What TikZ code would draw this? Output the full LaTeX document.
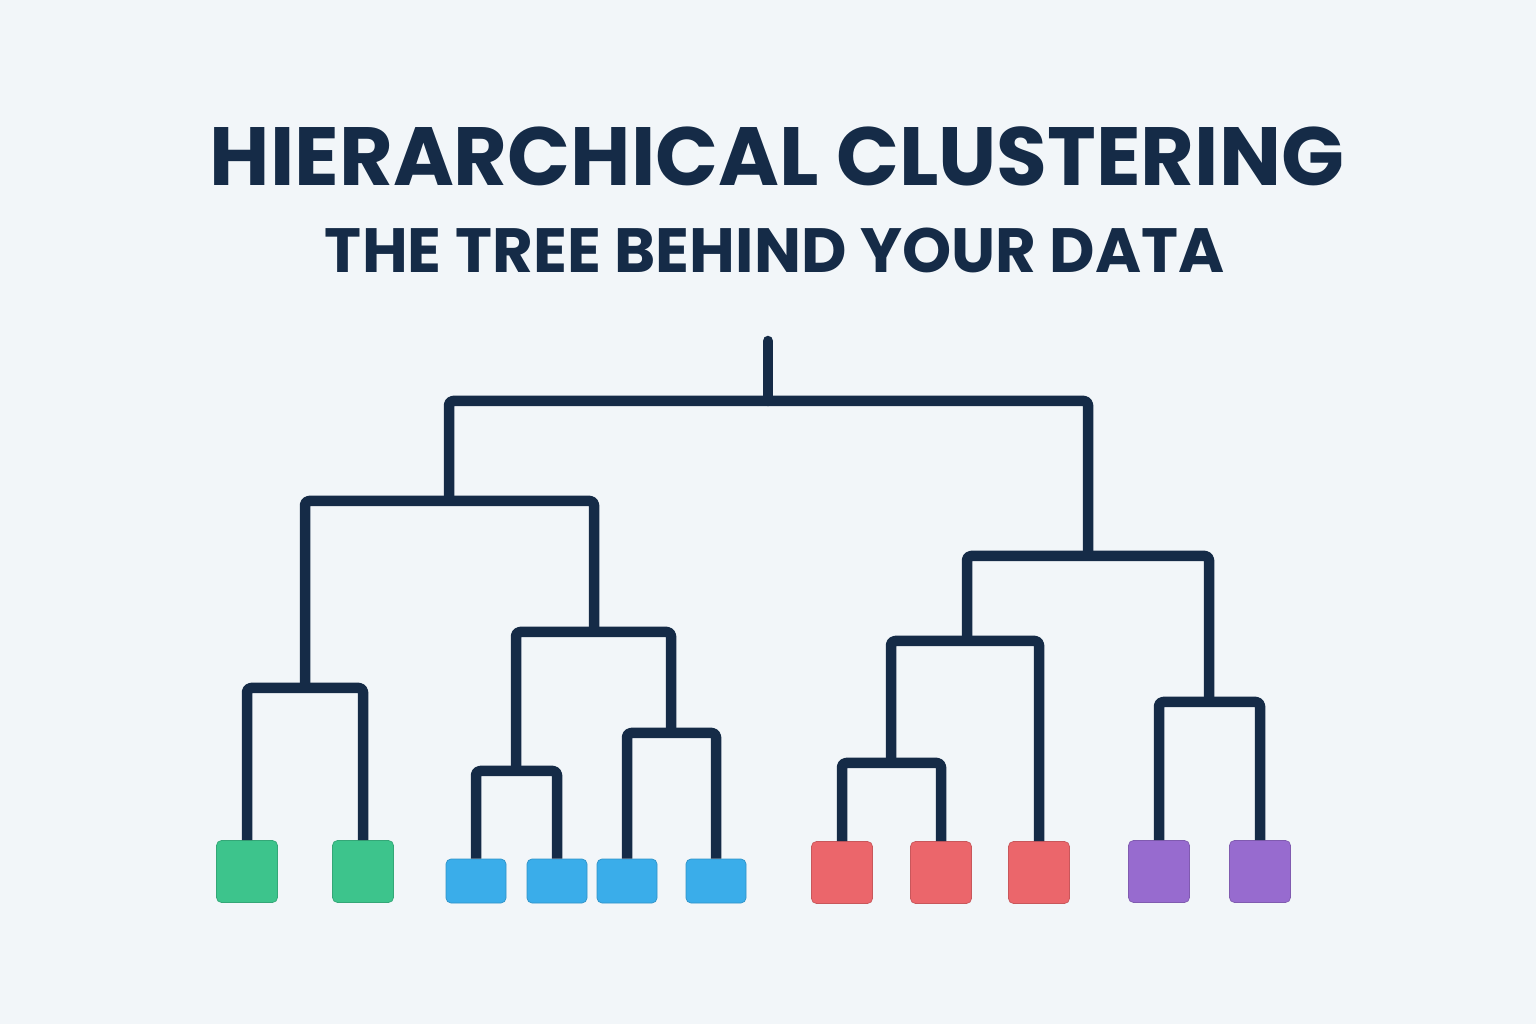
\documentclass[tikz,border=0pt]{standalone}
\usepackage{fontspec}
\setmainfont{Poppins}
\usepackage{xcolor}
\usepackage{tikz}
\usetikzlibrary{
  arrows.meta,
  positioning,
  calc
}
\definecolor{fundo}{HTML}{F2F6F9}
\definecolor{marinho}{HTML}{152B47}
\definecolor{verde}{HTML}{3DC48C}
\definecolor{azul}{HTML}{3AADEA}
\definecolor{vermelho}{HTML}{EB666B}
\definecolor{roxo}{HTML}{976BCF}
\tikzset{
  ramo/.style={draw=marinho, line width=1.05mm, line join=round, rounded corners=0.4mm},
  folha/.style={rectangle, rounded corners=0.5mm, inner sep=0pt,
    minimum width=6.1mm, minimum height=6.2mm},
  folhabaixa/.style={folha, minimum width=6mm, minimum height=4.4mm}
}

\begin{document}
\begin{tikzpicture}[x=0.1mm, y=-0.1mm]
    % Fundo
    \fill[fundo] (0,0) rectangle (1536,1024);
    % Titulo
    \node[anchor=base, text=marinho, font=\fontsize{23.5}{28}\selectfont\bfseries]
        (titulo) at (777,186) {HIERARCHICAL CLUSTERING};
    \node[anchor=base, text=marinho, font=\fontsize{17.8}{21}\selectfont\bfseries]
        (subtitulo) at (775,273) {\addfontfeature{LetterSpace=0.2}THE TREE BEHIND YOUR DATA};
    % Folhas
    \foreach \n/\x in {g1/247, g2/363}
        \node[folha, fill=verde, draw=verde!85!black, line width=0.2pt] (\n) at (\x,871.5) {};
    \foreach \n/\x in {b1/476, b2/557, b3/627, b4/716}
        \node[folhabaixa, fill=azul, draw=azul!85!black, line width=0.2pt] (\n) at (\x,881) {};
    \foreach \n/\x in {r1/842, r2/941, r3/1039}
        \node[folha, fill=vermelho, draw=vermelho!85!black, line width=0.2pt] (\n) at (\x,872.5) {};
    \foreach \n/\x in {p1/1159, p2/1260}
        \node[folha, fill=roxo, draw=roxo!85!black, line width=0.2pt] (\n) at (\x,871.5) {};
    % Pontos de fusao
    \coordinate (gm) at (305,688);
    \coordinate (b12) at (516,771);
    \coordinate (b34) at (671,733);
    \coordinate (bm) at (594,632);
    \coordinate (lm) at (449,501);
    \coordinate (r12) at (891,763);
    \coordinate (rm) at (967,641);
    \coordinate (pm) at (1209,702);
    \coordinate (rtm) at (1088,556);
    \coordinate (topo) at (768,401);
    \coordinate (raiz) at (768,341);
    % Ramos
    \draw[ramo] (g1.north) |- (gm) -| (g2.north);
    \draw[ramo] (b1.north) |- (b12) -| (b2.north);
    \draw[ramo] (b3.north) |- (b34) -| (b4.north);
    \draw[ramo] (b12) |- (bm) -| (b34);
    \draw[ramo] (gm) |- (lm) -| (bm);
    \draw[ramo] (r1.north) |- (r12) -| (r2.north);
    \draw[ramo] (r12) |- (rm) -| (r3.north);
    \draw[ramo] (p1.north) |- (pm) -| (p2.north);
    \draw[ramo] (rm) |- (rtm) -| (pm);
    \draw[ramo] (lm) |- (topo) -| (rtm);
    \draw[ramo, line cap=round] (topo) -- (raiz);
\end{tikzpicture}
\end{document}
